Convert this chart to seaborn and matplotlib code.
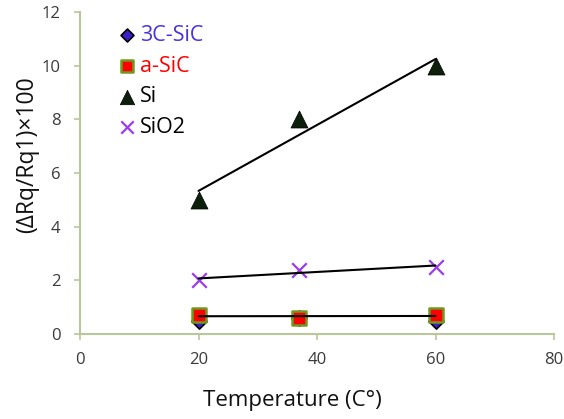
import numpy as np
import pandas as pd
import seaborn as sns
import matplotlib.pyplot as plt

temps = [20, 37, 60]
sic3c = [0.5, 0.6, 0.5]
asic = [0.7, 0.6, 0.7]
si = [5.0, 8.0, 10.0]
sio2 = [2.0, 2.4, 2.5]

sns.set_style("white")
plt.rcParams["font.family"] = ["Open Sans", "DejaVu Sans"]

fig = plt.figure(figsize=(5.64, 4.19), dpi=100)
ax = fig.add_axes([80 / 564, 85 / 419, 474 / 564, 322 / 419])

axis_col = "#b9c79a"

# name, values, marker style, legend text colour, trendline?
series = [
    ("3C-SiC", sic3c, dict(marker="D", s=60, color="#3b1fc8", edgecolor="black", linewidth=1.2), "#4b32e0", False),
    ("a-SiC", asic, dict(marker="s", s=110, color="#ff0000", edgecolor="#6f9a20", linewidth=1.8), "#ff0000", True),
    ("Si", si, dict(marker="^", s=150, color="#0b1f0b", edgecolor="black", linewidth=0.5), "black", True),
    ("SiO2", sio2, dict(marker="x", s=110, color="#9a3cf0", linewidth=1.6), "black", True),
]

for name, vals, kw, tcol, fit in series:
    df = pd.DataFrame({"T": temps, "v": vals})
    sns.scatterplot(data=df, x="T", y="v", ax=ax, label=name, zorder=3, **kw)

for name, vals, kw, tcol, fit in series:
    if not fit:
        continue
    df = pd.DataFrame({"T": temps, "v": vals})
    sns.regplot(data=df, x="T", y="v", ax=ax, scatter=False, ci=None, truncate=True,
                line_kws=dict(color="black", lw=1.5, zorder=4))

ax.set_xlim(0, 80)
ax.set_ylim(0, 12)
ax.set_xticks(range(0, 81, 20))
ax.set_yticks(range(0, 13, 2))
ax.tick_params(axis="both", labelsize=12, colors=axis_col, labelcolor="#3a3a3a",
               direction="out", length=4, width=1.2, bottom=True, left=True)
ax.tick_params(axis="x", pad=9)
ax.tick_params(axis="y", pad=10)
for side in ["top", "right"]:
    ax.spines[side].set_visible(False)
for side in ["left", "bottom"]:
    ax.spines[side].set_color(axis_col)
    ax.spines[side].set_linewidth(1.5)

ax.set_xlabel("Temperature (C°)", fontsize=16, color="#111111", va="center")
ax.set_ylabel("(ΔRq/Rq1)×100", fontsize=16.5, color="#111111", va="center")
ax.xaxis.set_label_coords(0.449, -0.205)
ax.yaxis.set_label_coords(-0.112, 0.556)

leg = ax.legend(loc="upper left", bbox_to_anchor=(0.049, 1.0), frameon=False, fontsize=15.5,
                handlelength=1.0, handletextpad=0.1, labelspacing=0.45, borderaxespad=0.2,
                markerscale=0.85)
for txt, s in zip(leg.get_texts(), series):
    txt.set_color(s[3])

fig.savefig("out.png", dpi=100)
